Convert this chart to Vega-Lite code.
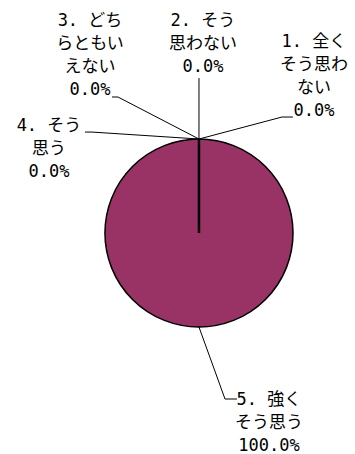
{
  "$schema": "https://vega.github.io/schema/vega-lite/v6.json",
  "width": 355,
  "height": 454,
  "autosize": {"type": "none"},
  "padding": 0,
  "background": "white",
  "config": {"view": {"stroke": null}},
  "datasets": {
    "pie": [
      {"label": "1. 全くそう思わない", "value": 0},
      {"label": "2. そう思わない", "value": 0},
      {"label": "3. どちらともいえない", "value": 0},
      {"label": "4. そう思う", "value": 0},
      {"label": "5. 強くそう思う", "value": 100}
    ],
    "leaders": [
      {"label": "1", "step": 0, "x": 0, "y": 1},
      {"label": "1", "step": 1, "x": 0.883, "y": 1.234},
      {"label": "1", "step": 2, "x": 1.0, "y": 1.234},
      {"label": "2", "step": 0, "x": 0, "y": 1},
      {"label": "2", "step": 1, "x": 0, "y": 1.649},
      {"label": "3", "step": 0, "x": 0, "y": 1},
      {"label": "3", "step": 1, "x": -0.862, "y": 1.447},
      {"label": "3", "step": 2, "x": -0.926, "y": 1.447},
      {"label": "4", "step": 0, "x": 0, "y": 1},
      {"label": "4", "step": 1, "x": -1.138, "y": 1.074},
      {"label": "4", "step": 2, "x": -1.213, "y": 1.074},
      {"label": "5", "step": 0, "x": 0, "y": -1},
      {"label": "5", "step": 1, "x": 0.277, "y": -1.766},
      {"label": "5", "step": 2, "x": 0.404, "y": -1.766}
    ],
    "labels": [
      {"text": "1. 全く\nそう思わ\nない\n0.0%", "x": 1.2234, "y": 2.0319},
      {"text": "2. そう\n思わない\n0.0%", "x": 0.0426, "y": 2.2553},
      {"text": "3. どち\nらともい\nえない\n0.0%", "x": -1.1596, "y": 2.2553},
      {"text": "4. そう\n思う\n0.0%", "x": -1.5957, "y": 1.1383},
      {"text": "5. 強く\nそう思う\n100.0%", "x": 0.7447, "y": -1.7766}
    ],
    "spoke": [
      {"x": 0, "y": 0, "x2": 0, "y2": 1}
    ]
  },
  "layer": [
    {
      "data": {"name": "pie"},
      "mark": {"type": "arc", "outerRadius": 94, "stroke": "#000000", "strokeWidth": 1.5},
      "encoding": {
        "theta": {"field": "value", "type": "quantitative", "stack": true},
        "color": {
          "field": "label",
          "type": "nominal",
          "scale": {
            "domain": ["1. 全くそう思わない", "2. そう思わない", "3. どちらともいえない", "4. そう思う", "5. 強くそう思う"],
            "range": ["#9999ff", "#993366", "#ffffcc", "#ccffff", "#993366"]
          },
          "legend": null
        },
        "order": {"field": "label"},
        "x": {"datum": 0, "type": "quantitative", "scale": {"domain": [-2.117, 1.66], "nice": false, "zero": false}, "axis": null},
        "y": {"datum": 0, "type": "quantitative", "scale": {"domain": [-2.351, 2.479], "nice": false, "zero": false}, "axis": null}
      }
    },
    {
      "data": {"name": "spoke"},
      "mark": {"type": "rule", "color": "#000000", "strokeWidth": 2.5},
      "encoding": {
        "x": {"field": "x", "type": "quantitative"},
        "y": {"field": "y", "type": "quantitative"},
        "x2": {"field": "x2"},
        "y2": {"field": "y2"}
      }
    },
    {
      "data": {"name": "leaders"},
      "mark": {"type": "line", "color": "#000000", "strokeWidth": 1},
      "encoding": {
        "x": {"field": "x", "type": "quantitative"},
        "y": {"field": "y", "type": "quantitative"},
        "detail": {"field": "label"},
        "order": {"field": "step", "type": "quantitative"}
      }
    },
    {
      "data": {"name": "labels"},
      "mark": {
        "type": "text",
        "lineBreak": "\n",
        "lineHeight": 23,
        "align": "center",
        "baseline": "middle",
        "font": "DejaVu Sans Mono, Noto Sans CJK JP",
        "fontSize": 17,
        "color": "#000000"
      },
      "encoding": {
        "x": {"field": "x", "type": "quantitative"},
        "y": {"field": "y", "type": "quantitative"},
        "text": {"field": "text"}
      }
    }
  ]
}
